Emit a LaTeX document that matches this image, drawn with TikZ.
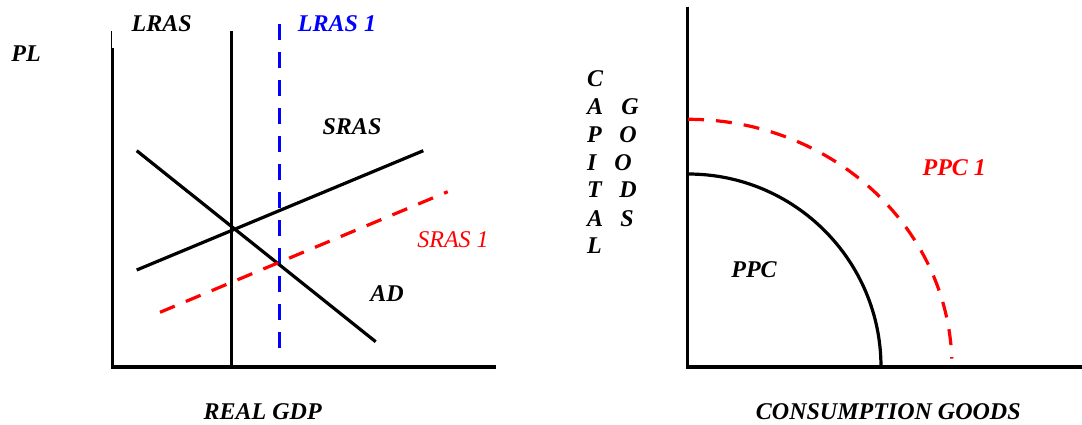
\documentclass[tikz,border=0pt]{standalone}
\usepackage{fontspec}
\setmainfont{Liberation Serif}
\begin{document}
\begin{tikzpicture}[x=1pt,y=-1pt,
  lbl/.style={font=\fontsize{24}{28}\selectfont\bfseries\itshape, inner sep=0pt},
  lblr/.style={font=\fontsize{24}{28}\selectfont\itshape, inner sep=0pt},
  curve/.style={line width=3.2pt},
  reddash/.style={line width=3.2pt, red, dash pattern=on 16pt off 12pt},
  bluedash/.style={line width=3.2pt, blue, dash pattern=on 15.5pt off 12.5pt}]
\useasboundingbox (0,0) rectangle (1082,424);
% ---------- left graph ----------
\coordinate (lyt) at (112.7,48);
\coordinate (lytt) at (111,31);
\coordinate (lyt2) at (111,48);
\coordinate (lo) at (112.7,367);
\coordinate (lxe) at (496,367);
\draw[line width=1pt] (lytt) -- (lyt2);
\draw[curve] (lyt) -- (lo);
\draw[curve] (111.1,367) -- (lxe);
\coordinate (lrasT) at (231.7,31);
\coordinate (lrasB) at (231.7,367);
\draw[curve] (lrasT) -- (lrasB);
\coordinate (lras1T) at (279.7,24);
\coordinate (lras1B) at (279.7,348);
\draw[bluedash] (lras1T) -- (lras1B);
\coordinate (srasA) at (136.7,270);
\coordinate (srasB) at (423.3,150.7);
\draw[curve] (srasA) -- (srasB);
\coordinate (adA) at (136.7,150.7);
\coordinate (adB) at (375.7,341.7);
\draw[curve] (adA) -- (adB);
\coordinate (sras1A) at (160,312.3);
\coordinate (sras1B) at (447.7,191.7);
\draw[reddash] (sras1A) -- (sras1B);
\node[lbl] (tLRAS) at (161.7,24) {LRAS};
\node[lbl, blue] (tLRAS1) at (337,24) {LRAS 1};
\node[lbl] (tPL) at (26,54) {PL};
\node[lbl] (tSRAS) at (352,127) {SRAS};
\node[lblr, red] (tSRAS1) at (453,240) {SRAS 1};
\node[lbl] (tAD) at (387,294) {AD};
\node[lbl] (tGDP) at (262.7,411.5) {REAL GDP};
% ---------- right graph ----------
\coordinate (ryt) at (687.7,6.7);
\coordinate (ro) at (687.7,367);
\coordinate (rxe) at (1082,367);
\draw[curve] (ryt) -- (ro);
\draw[curve] (686.1,367) -- (rxe);
\draw[curve] (688,174) arc[start angle=90, end angle=0, radius=193pt];
\draw[reddash] (688,119.3) arc[start angle=90, end angle=2, x radius=264pt, y radius=248pt];
\foreach \l/\y [count=\i] in {C/78.3,A/106.7,P/135,I/162.3,T/190,A/218.3,L/245.7}
  \node[lbl, anchor=west] (cap\i) at (587,\y) {\l};
\node[lbl] (g1) at (630,106.7) {G};
\node[lbl] (g2) at (628,135) {O};
\node[lbl] (g3) at (623,162.3) {O};
\node[lbl] (g4) at (628,190) {D};
\node[lbl] (g5) at (627,218.3) {S};
\node[lbl, red] (tPPC1) at (954.3,167.7) {PPC 1};
\node[lbl] (tPPC) at (754,270) {PPC};
\node[lbl] (tCG) at (888.3,411.5) {CONSUMPTION GOODS};
\end{tikzpicture}
\end{document}
